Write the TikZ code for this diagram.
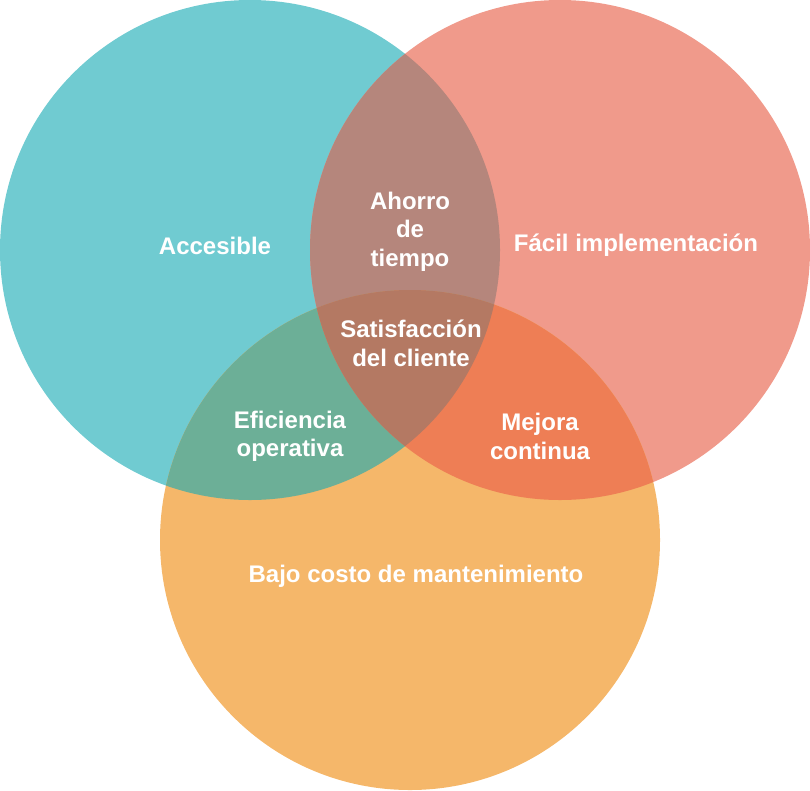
\documentclass[tikz,border=0pt]{standalone}
\usepackage{fontspec}
\setmainfont{Liberation Sans}
\definecolor{cteal}{HTML}{70CBD1}
\definecolor{csalmon}{HTML}{F09A8B}
\definecolor{corange}{HTML}{F5B76A}
\definecolor{cts}{HTML}{B5867C}
\definecolor{cto}{HTML}{6CAF97}
\definecolor{cso}{HTML}{EE7E55}
\definecolor{call}{HTML}{B47963}
\tikzset{
  lbl/.style={text=white, align=center, inner sep=0pt,
    font=\fontsize{24}{28.5}\selectfont\bfseries},
}
\begin{document}
\begin{tikzpicture}[x=1pt, y=-1pt]
  \useasboundingbox (0,0) rectangle (810,790);
  % the three sets
  \def\ca{(250,250) circle[radius=250]}
  \def\cb{(560,250) circle[radius=250]}
  \def\cc{(410,540) circle[radius=250]}
  \fill[cteal] \ca;
  \fill[csalmon] \cb;
  \fill[corange] \cc;
  % pairwise overlaps
  \begin{scope}
    \clip \ca; \fill[cts] \cb;
  \end{scope}
  \begin{scope}
    \clip \ca; \fill[cto] \cc;
  \end{scope}
  \begin{scope}
    \clip \cb; \fill[cso] \cc;
  \end{scope}
  % common part of all three
  \begin{scope}
    \clip \ca; \clip \cb; \fill[call] \cc;
  \end{scope}
  % labels
  \node[lbl] (acc) at (215,245.5) {Accesible};
  \node[lbl] (fac) at (636,245.5) {Fácil implementación};
  \node[lbl] (aho) at (410,231.5) {Ahorro\\de\\tiempo};
  \node[lbl] (sat) at (411,343.5) {Satisfacción\\del cliente};
  \node[lbl] (efi) at (290,436.5) {Eficiencia\\operativa};
  \node[lbl] (mej) at (540,436.5) {Mejora\\continua};
  \node[lbl] (baj) at (416,576.5) {Bajo costo de mantenimiento};
\end{tikzpicture}
\end{document}
